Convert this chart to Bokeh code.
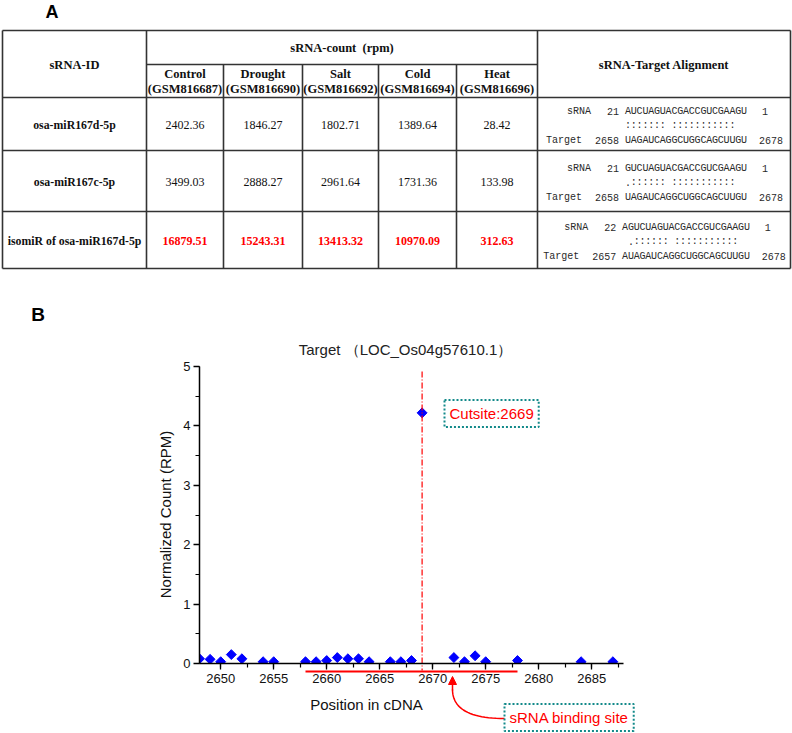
import numpy as np
from bokeh.plotting import figure
from bokeh.models import (Range1d, Label, Arrow, NormalHead, SingleIntervalTicker)
from bokeh.core.properties import value
from bokeh.embed import file_html
from bokeh.resources import INLINE

# ---------------- data: panel A (table) ----------------
CONDITIONS = ["Control", "Drought", "Salt", "Cold", "Heat"]
GSM_IDS = ["GSM816687", "GSM816690", "GSM816692", "GSM816694", "GSM816696"]
SRNA_IDS = ["osa-miR167d-5p", "osa-miR167c-5p", "isomiR of osa-miR167d-5p"]
RPM_MIR167D = [2402.36, 1846.27, 1802.71, 1389.64, 28.42]
RPM_MIR167C = [3499.03, 2888.27, 2961.64, 1731.36, 133.98]
RPM_ISOMIR = [16879.51, 15243.31, 13413.32, 10970.09, 312.63]
SRNA_SEQ = ["AUCUAGUACGACCGUCGAAGU", "GUCUAGUACGACCGUCGAAGU", "AGUCUAGUACGACCGUCGAAGU"]
SRNA_START = [21, 21, 22]
TARGET_SEQ = ["UAGAUCAGGCUGGCAGCUUGU", "UAGAUCAGGCUGGCAGCUUGU", "AUAGAUCAGGCUGGCAGCUUGU"]
TARGET_START = [2658, 2658, 2657]
TARGET_END = 2678
MATCH_LINES = ["::::::: :::::::::::", ".:::::: :::::::::::", " .:::::: :::::::::::"]

# ---------------- data: panel B (scatter) ----------------
POSITION = [2648, 2649, 2650, 2651, 2652, 2654, 2655, 2658, 2659, 2660, 2661, 2662,
            2663, 2664, 2666, 2667, 2668, 2669, 2672, 2673, 2674, 2675, 2678, 2684, 2687]
NORM_COUNT = [0.08, 0.07, 0.03, 0.15, 0.08, 0.03, 0.03, 0.03, 0.03, 0.05, 0.10, 0.08,
              0.08, 0.03, 0.03, 0.03, 0.05, 4.22, 0.10, 0.03, 0.13, 0.03, 0.05, 0.03, 0.03]
CUT_SITE = 2669
BIND_START, BIND_END = 2658, 2678
TITLE = "Target \uff08LOC_Os04g57610.1\uff09"

# ---------------- layout constants ----------------
W, H = 792, 733
SERIF = "Liberation Serif"
SANS = "Liberation Sans"
MONO = "Liberation Mono"
FX0, FX1, FY0, FY1 = 199, 623, 366, 663   # plot axes box in page pixels
X0, X1, Y0, Y1 = 2648, 2688, 0, 5         # axis extents


def dx(px):
    return X0 + (px - FX0) * (X1 - X0) / (FX1 - FX0)


def dy(py):
    return Y0 + (FY1 - py) * (Y1 - Y0) / (FY1 - FY0)


p = figure(width=W, height=H, x_range=Range1d(dx(0), dx(W)), y_range=Range1d(dy(H), dy(0)),
           output_backend="svg", toolbar_location=None, min_border=0)
p.extra_x_ranges = {"px": Range1d(0, W)}
p.extra_y_ranges = {"py": Range1d(H, 0)}
p.grid.visible = False
p.outline_line_color = None
p.background_fill_color = "white"
PX = dict(x_range_name="px", y_range_name="py")

# ================= Panel A : table =================
col_edges = [2, 146, 223, 302, 378, 456, 537, 790]
row_edges = [30, 97, 150, 211, 268]
sub_y = 64

x0s, y0s, x1s, y1s = [], [], [], []
for y in row_edges:
    x0s.append(col_edges[0]); x1s.append(col_edges[-1]); y0s.append(y); y1s.append(y)
x0s.append(col_edges[1]); x1s.append(col_edges[6]); y0s.append(sub_y); y1s.append(sub_y)
for i, x in enumerate(col_edges):
    top = sub_y if 2 <= i <= 5 else row_edges[0]
    x0s.append(x); x1s.append(x); y0s.append(top); y1s.append(row_edges[-1])
p.segment(x0s, y0s, x1s, y1s, line_color="#333333", line_width=1.6, **PX)

col_cx = [(col_edges[i] + col_edges[i + 1]) / 2 for i in range(len(col_edges) - 1)]
row_cy = [(row_edges[i] + row_edges[i + 1]) / 2 for i in range(1, len(row_edges) - 1)]

hx, hy, ht = [], [], []
hx.append(col_cx[0]); hy.append(64); ht.append("sRNA-ID")
hx.append((col_edges[1] + col_edges[6]) / 2); hy.append(47); ht.append("sRNA-count\u00a0 (rpm)")
hx.append(col_cx[6]); hy.append(64); ht.append("sRNA-Target Alignment")
for j, (c, g) in enumerate(zip(CONDITIONS, GSM_IDS)):
    hx.append(col_cx[j + 1]); hy.append(73); ht.append(c)
    hx.append(col_cx[j + 1]); hy.append(88); ht.append("(" + g + ")")
p.text(x=hx, y=hy, text=ht, text_font=value(SERIF), text_font_style="bold",
       text_font_size="12.5px", text_align="center", text_baseline="middle",
       text_color="#111111", **PX)
p.text(x=[col_cx[0]] * 3, y=[c + 1 for c in row_cy], text=SRNA_IDS,
       text_font=value(SERIF), text_font_style="bold", text_font_size="11.8px",
       text_align="center", text_baseline="middle", text_color="#111111", **PX)

vx, vy, vt = [], [], []
for i, row in enumerate([RPM_MIR167D, RPM_MIR167C, RPM_ISOMIR]):
    for j, v in enumerate(row):
        vx.append(col_cx[j + 1]); vy.append(row_cy[i] + 1); vt.append(f"{v:.2f}")
p.text(x=vx[:10], y=vy[:10], text=vt[:10], text_font=value(SERIF),
       text_font_size="12px", text_align="center", text_baseline="middle",
       text_color="#111111", **PX)
p.text(x=vx[10:], y=vy[10:], text=vt[10:], text_font=value(SERIF),
       text_font_style="bold", text_font_size="12px", text_align="center",
       text_baseline="middle", text_color="#ff0000", **PX)

# alignments: one glyph per nucleotide so columns line up exactly
CW = 5.8
lx, ly, lt, rx, ry, rt, chx, chy, cht = [], [], [], [], [], [], [], [], []
for i in range(3):
    L = len(SRNA_SEQ[i])
    width = 79 + L * CW + 37
    seq_x = col_cx[6] + 1 - width / 2 + 79
    seq_end = seq_x + L * CW
    ys, ym, yt = row_cy[i] - 13, row_cy[i] + 1.5, row_cy[i] + 16.5
    lx += [seq_x - 58, seq_end + 15, seq_x - 79, seq_end + 12]
    ly += [ys, ys, yt, yt]
    lt += ["sRNA", "1", "Target", str(TARGET_END)]
    rx += [seq_x - 6, seq_x - 6]
    ry += [ys, yt]
    rt += [str(SRNA_START[i]), str(TARGET_START[i])]
    for k in range(L):
        cxk = seq_x + (k + 0.5) * CW
        chx += [cxk, cxk]; chy += [ys, yt]; cht += [SRNA_SEQ[i][k], TARGET_SEQ[i][k]]
        m = MATCH_LINES[i][k] if k < len(MATCH_LINES[i]) else " "
        if m != " ":
            chx.append(cxk); chy.append(ym); cht.append(m)
AL = dict(text_font=value(MONO), text_font_size="10px", text_baseline="middle",
          text_color="#2a2a2a", **PX)
p.text(x=lx, y=ly, text=lt, text_align="left", **AL)
p.text(x=rx, y=ry, text=rt, text_align="right", **AL)
p.text(x=chx, y=chy, text=cht, text_align="center", **AL)

p.text(x=[51.5], y=[11], text=["A"], text_font=value(SANS), text_font_style="bold",
       text_font_size="18px", text_align="center", text_baseline="middle",
       text_color="#000000", **PX)

# ================= Panel B : scatter =================
p.xaxis.fixed_location = Y0
p.yaxis.fixed_location = X0
p.xaxis.bounds = (X0, X1)
p.yaxis.bounds = (Y0, Y1)
p.xaxis.ticker = SingleIntervalTicker(interval=5, num_minor_ticks=2)
p.yaxis.ticker = SingleIntervalTicker(interval=1, num_minor_ticks=2)
for ax in (p.xaxis[0], p.yaxis[0]):
    ax.axis_line_color = "#000000"
    ax.axis_line_width = 1.5
    ax.major_tick_line_color = "#000000"
    ax.minor_tick_line_color = "#000000"
    ax.major_tick_line_width = 1.3
    ax.minor_tick_line_width = 1.2
    ax.major_tick_in = 0
    ax.major_tick_out = 6
    ax.minor_tick_in = 0
    ax.minor_tick_out = 4
    ax.major_label_text_font = SANS
    ax.major_label_text_font_size = "13px"
    ax.major_label_text_color = "#111111"
p.xaxis[0].major_label_standoff = 4
p.yaxis[0].major_label_standoff = 3

p.scatter(POSITION, NORM_COUNT, marker="square", angle=np.pi / 4, size=7,
          fill_color="#0000ff", line_color="#0000ff")
# white masks so markers are cut at the axes, like the original
p.quad(left=[X0 - 1, X0 - 1], right=[X1 + 1, X0], bottom=[Y0 - 0.15, Y0],
       top=[Y0, Y1], fill_color="white", line_color=None)

# cut-site dash-dot line
p.segment(x0=[CUT_SITE], y0=[dy(371)], x1=[CUT_SITE], y1=[dy(670)],
          line_color="#ff0000", line_dash="6 2 1 2", line_width=1.2)
# binding-site bar under the axis
p.segment(x0=[BIND_START], y0=[dy(671)], x1=[BIND_END], y1=[dy(671)],
          line_color="#ff0000", line_width=2)

# curved connector from label to binding site
P0 = np.array([504.0, 718.0]); P1 = np.array([452.0, 718.0]); P2 = np.array([452.0, 689.0])
tt = np.linspace(0, 1, 25)
curve = [(1 - t) ** 2 * P0 + 2 * (1 - t) * t * P1 + t ** 2 * P2 for t in tt]
p.line([dx(c[0]) for c in curve], [dy(c[1]) for c in curve],
       line_color="#ff0000", line_width=1.5)
p.add_layout(Arrow(end=NormalHead(size=8, fill_color="#ff0000", line_color="#ff0000"),
                   x_start=dx(452), y_start=dy(690), x_end=dx(452), y_end=dy(676),
                   line_color="#ff0000", line_width=1.5))

# boxed labels
p.add_layout(Label(x=dx(444), y=dy(413), text=f"Cutsite:{CUT_SITE}",
                   text_font=SANS, text_font_size="15px", text_color="#ff0000",
                   text_align="left", text_baseline="middle",
                   border_line_color="#138a8a", border_line_dash="2 2",
                   border_line_width=2, padding=5))
p.add_layout(Label(x=dx(504), y=dy(717), text="sRNA binding site",
                   text_font=SANS, text_font_size="15px", text_color="#ff0000",
                   text_align="left", text_baseline="middle",
                   border_line_color="#138a8a", border_line_dash="2 2",
                   border_line_width=2, padding=5))

# title, axis labels, panel letter
p.add_layout(Label(x=dx(405), y=dy(349), text=TITLE, text_font=SANS,
                   text_font_size="15px", text_color="#222222",
                   text_align="center", text_baseline="middle"))
p.add_layout(Label(x=dx(366), y=dy(704), text="Position in cDNA", text_font=SANS,
                   text_font_size="15px", text_color="#111111",
                   text_align="center", text_baseline="middle"))
p.add_layout(Label(x=dx(165), y=dy(514), text="Normalized Count (RPM)", text_font=SANS,
                   text_font_size="15px", text_color="#111111", angle=np.pi / 2,
                   text_align="center", text_baseline="middle"))
p.add_layout(Label(x=dx(37.5), y=dy(314), text="B", text_font=SANS,
                   text_font_style="bold", text_font_size="19px", text_color="#000000",
                   text_align="center", text_baseline="middle"))

open("out.html", "w").write(file_html(p, INLINE))
